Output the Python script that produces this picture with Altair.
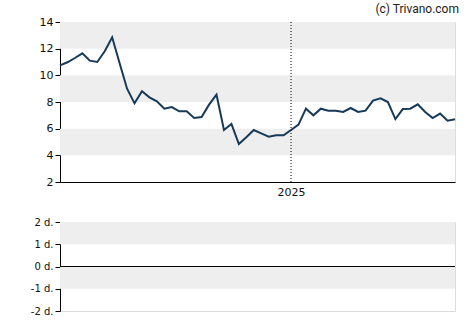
import altair as alt
import pandas as pd

# ---- data ----
start_date = "2024-05-29"
prices = [10.75, 10.98, 11.3, 11.65, 11.1, 11.0, 11.8, 12.85, 10.9, 9.0,
          7.9, 8.8, 8.35, 8.05, 7.5, 7.62, 7.3, 7.3, 6.8, 6.87,
          7.8, 8.55, 5.9, 6.35, 4.85, 5.35, 5.9, 5.65, 5.4, 5.5,
          5.5, 5.9, 6.3, 7.5, 7.0, 7.5, 7.35, 7.35, 7.25, 7.55,
          7.25, 7.35, 8.1, 8.28, 8.0, 6.72, 7.47, 7.5, 7.83, 7.25,
          6.8, 7.13, 6.6, 6.7]
year_marker = ["2025-01-01"]
top_band_lo = [4, 8, 12]
top_band_hi = [6, 10, 14]
bot_band_lo = [-1, 1]
bot_band_hi = [0, 2]
top_ticks = [2, 4, 6, 8, 10, 12, 14]
bot_ticks = [-2, -1, 0, 1, 2]

dates = pd.date_range(start_date, periods=len(prices), freq="7D")
df = pd.DataFrame({"date": dates, "price": prices})
bands_top = pd.DataFrame({"lo": top_band_lo, "hi": top_band_hi})
bands_bot = pd.DataFrame({"lo": bot_band_lo, "hi": bot_band_hi})
marker = pd.DataFrame({"date": pd.to_datetime(year_marker)})
zero = pd.DataFrame({"v": [0]})

W = 395
LINE = "#163a58"
FONT = "DejaVu Sans"

xdom = [dates[0].isoformat(), dates[-1].isoformat()]
xscale = alt.Scale(domain=xdom)

top_axis = alt.Axis(values=top_ticks, title=None, grid=False,
                    labelOverlap=False,
                    tickSize=5, tickColor="black", domainColor="black",
                    labelFont=FONT, labelFontSize=11, labelColor="#111",
                    labelPadding=2)
ytop_scale = alt.Scale(domain=[2, 14], nice=False)

bt = alt.Chart(bands_top).mark_rect(color="#eeeeee").encode(
    y=alt.Y("lo:Q", scale=ytop_scale, axis=top_axis), y2="hi:Q",
    x=alt.value(0), x2=alt.value(W))

line = alt.Chart(df).mark_line(color=LINE, strokeWidth=2).encode(
    x=alt.X("date:T", scale=xscale,
            axis=alt.Axis(values=pd.to_datetime(year_marker).map(lambda d: d.isoformat()).tolist(),
                          format="%Y", title=None, grid=False, ticks=False,
                          domainColor="black", labelFont=FONT, labelFontSize=11,
                          labelColor="#111", labelPadding=4)),
    y=alt.Y("price:Q", scale=ytop_scale, axis=top_axis))

vr = alt.Chart(marker).mark_rule(color="black", strokeDash=[1, 2], strokeWidth=1).encode(
    x=alt.X("date:T", scale=xscale))

top = alt.layer(bt, vr, line).properties(
    width=W, height=160,
    title=alt.TitleParams("(c) Trivano.com", anchor="end", font="Roboto",
                          fontSize=12, fontWeight="normal", color="#222", offset=0))

bot_axis = alt.Axis(values=bot_ticks, title=None, grid=False,
                    labelOverlap=False,
                    labelExpr="datum.value + ' d.'",
                    tickSize=5, tickColor="black", domainColor="black",
                    labelFont=FONT, labelFontSize=10, labelColor="#111",
                    labelPadding=2)
ybot_scale = alt.Scale(domain=[-2, 2], nice=False)

bb = alt.Chart(bands_bot).mark_rect(color="#eeeeee").encode(
    y=alt.Y("lo:Q", scale=ybot_scale, axis=bot_axis), y2="hi:Q",
    x=alt.value(0), x2=alt.value(W))
zl = alt.Chart(zero).mark_rule(color="black", strokeWidth=1.2).encode(
    y=alt.Y("v:Q", scale=ybot_scale, axis=bot_axis), x=alt.value(0), x2=alt.value(W))

bottom = alt.layer(bb, zl).properties(width=W, height=89)

chart = alt.vconcat(top, bottom, spacing=18).properties(
    padding={"left": 29, "top": 2, "right": 5, "bottom": 5}
).configure_view(stroke="black", strokeWidth=1).configure(
    background="white").configure_axis(labelOverlap=False)

chart.save("out.html", embed_options={"renderer": "svg", "actions": False})
